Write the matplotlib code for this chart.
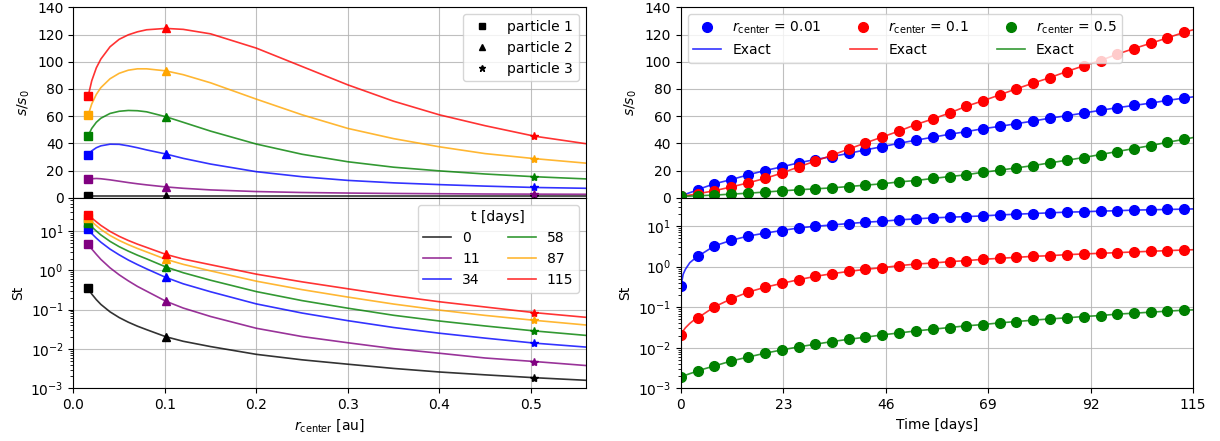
import numpy as np
import matplotlib.pyplot as plt

# ---- left panels: profiles vs r_center at several times ----
r_center = [0.016, 0.02, 0.025, 0.03, 0.04, 0.05, 0.06, 0.07, 0.08, 0.101,
            0.12, 0.15, 0.2, 0.25, 0.3, 0.35, 0.4, 0.45, 0.504, 0.56]
t_labels = ['0', '11', '34', '58', '87', '115']
t_colors = ['black', 'purple', 'blue', 'green', 'orange', 'red']

size_t0 = [1.0] * 20
size_t11 = [13.5, 14.0, 14.2, 14.0, 13.2, 12.2, 11.2, 10.3, 9.5, 8.0,
            7.0, 5.8, 4.6, 3.9, 3.5, 3.2, 3.0, 2.8, 2.7, 2.6]
size_t34 = [31.3, 34.5, 36.8, 38.2, 39.4, 39.3, 38.2, 36.8, 35.2, 32.2,
            29.0, 24.8, 19.2, 15.5, 12.8, 11.0, 9.7, 8.6, 7.6, 7.0]
size_t58 = [45.7, 51.0, 55.5, 58.5, 62.0, 63.6, 64.2, 64.0, 63.2, 59.6,
            55.5, 49.0, 39.5, 32.0, 26.5, 22.5, 19.8, 17.5, 15.5, 13.9]
size_t87 = [60.6, 69.0, 76.0, 81.0, 87.5, 91.5, 93.8, 94.8, 94.8, 93.3,
            90.5, 84.5, 72.5, 61.0, 51.0, 43.5, 37.5, 32.5, 28.8, 25.5]
size_t115 = [74.5, 86.0, 95.5, 102.0, 111.0, 116.5, 119.8, 122.0, 123.5, 124.5,
             123.8, 120.5, 110.0, 96.5, 83.0, 71.0, 61.0, 53.0, 45.3, 39.8]

st_t0 = [0.35, 0.25, 0.18, 0.136, 0.088, 0.063, 0.048, 0.038, 0.031, 0.0205,
         0.0157, 0.0115, 0.0073, 0.0053, 0.0041, 0.0032, 0.0026, 0.0022, 0.00186, 0.0016]
st_t11 = [4.7, 3.5, 2.56, 1.9, 1.16, 0.77, 0.54, 0.39, 0.295, 0.164,
          0.11, 0.067, 0.0336, 0.0207, 0.0144, 0.0102, 0.0078, 0.0059, 0.0048, 0.0038]
st_t34 = [11.0, 8.6, 6.6, 5.2, 3.47, 2.48, 1.83, 1.40, 1.09, 0.66,
          0.455, 0.285, 0.140, 0.082, 0.0525, 0.0352, 0.0252, 0.0189, 0.0141, 0.0112]
st_t58 = [16.0, 12.8, 10.0, 7.96, 5.46, 4.0, 3.08, 2.43, 1.96, 1.22,
          0.87, 0.56, 0.288, 0.170, 0.109, 0.072, 0.0515, 0.0385, 0.0288, 0.0222]
st_t87 = [21.2, 17.3, 13.7, 11.0, 7.7, 5.76, 4.5, 3.6, 2.94, 1.91,
          1.42, 0.97, 0.53, 0.323, 0.209, 0.139, 0.0975, 0.0715, 0.0536, 0.0408]
st_t115 = [26.0, 21.5, 17.2, 13.9, 9.77, 7.34, 5.75, 4.64, 3.83, 2.55,
           1.94, 1.39, 0.80, 0.51, 0.34, 0.227, 0.159, 0.117, 0.084, 0.064]

particle_idx = [0, 9, 18]
particle_markers = ['s', '^', '*']
particle_labels = ['particle 1', 'particle 2', 'particle 3']

# ---- right panels: evolution in time at three radii ----
times = [0, 3.8, 7.5, 11.3, 15.1, 18.8, 22.6, 26.4, 30.1, 33.9, 37.7, 41.4,
         45.2, 49.0, 52.7, 56.5, 60.3, 64.0, 67.8, 71.6, 75.3, 79.1, 82.9,
         86.6, 90.4, 94.2, 97.9, 101.7, 105.5, 109.2, 113.0]
r_labels = ['0.01', '0.1', '0.5']
r_colors = ['blue', 'red', 'green']

size_r001 = [1.0, 6.1, 10.3, 13.4, 16.9, 20.0, 22.7, 25.7, 28.1, 30.3, 32.7,
             35.2, 37.6, 40.1, 42.3, 44.5, 46.7, 48.6, 50.8, 52.5, 54.5, 56.4,
             58.6, 60.3, 62.3, 64.3, 66.2, 67.9, 69.6, 71.6, 73.3]
size_r01 = [1.0, 3.0, 5.2, 8.0, 11.0, 14.2, 18.1, 22.7, 26.9, 31.3, 35.9,
            40.3, 44.7, 49.1, 53.8, 57.9, 62.3, 67.2, 71.3, 75.7, 80.1, 84.3,
            88.4, 92.8, 97.0, 100.9, 105.5, 109.7, 113.6, 117.5, 121.7]
size_r05 = [1.0, 1.5, 2.0, 2.7, 3.4, 4.2, 5.1, 5.9, 6.6, 7.3, 8.3, 9.3,
            10.3, 11.7, 12.7, 14.2, 15.6, 16.9, 18.8, 20.3, 22.0, 23.7, 25.7,
            27.6, 29.6, 31.8, 34.0, 36.2, 38.4, 40.8, 43.0]

st_r001 = [0.33, 1.80, 3.25, 4.48, 5.7, 6.7, 7.8, 9.0, 9.9, 10.7, 11.6, 12.5,
           13.2, 14.3, 15.1, 16.0, 16.6, 17.2, 17.9, 18.9, 19.7, 20.5, 21.3,
           22.2, 22.6, 23.5, 24.0, 24.9, 25.3, 25.8, 26.3]
st_r01 = [0.021, 0.0547, 0.102, 0.161, 0.236, 0.309, 0.387, 0.477, 0.576,
          0.671, 0.766, 0.859, 0.945, 1.06, 1.16, 1.23, 1.33, 1.41, 1.52, 1.61,
          1.70, 1.80, 1.87, 1.98, 2.06, 2.14, 2.22, 2.31, 2.40, 2.49, 2.58]
st_r05 = [0.00186, 0.00272, 0.00355, 0.00471, 0.00591, 0.0073, 0.00883,
          0.0105, 0.0122, 0.0142, 0.0162, 0.0182, 0.0208, 0.0232, 0.026,
          0.0286, 0.0316, 0.0347, 0.0374, 0.0411, 0.0444, 0.0479, 0.0516,
          0.0547, 0.059, 0.0624, 0.0675, 0.0713, 0.0755, 0.080, 0.0846]

# exact solution: extra early points and the end point at 115 days
exact_t_early = [0.5, 1.0, 2.0, 3.0]
exact_t_end = 115
size_early = [[1.9, 2.6, 3.8, 4.9], [1.25, 1.5, 2.0, 2.5], [1.05, 1.1, 1.25, 1.35]]
size_end = [74.2, 123.5, 44.3]
st_early = [[0.65, 0.86, 1.26, 1.55], [0.026, 0.031, 0.040, 0.049], [0.002, 0.0021, 0.0023, 0.0025]]
st_end = [26.6, 2.62, 0.086]

size_profiles = [size_t0, size_t11, size_t34, size_t58, size_t87, size_t115]
st_profiles = [st_t0, st_t11, st_t34, st_t58, st_t87, st_t115]
size_series = [size_r001, size_r01, size_r05]
st_series = [st_r001, st_r01, st_r05]

fig, axes = plt.subplots(2, 2, figsize=(12.2, 4.41), dpi=100, sharex='col')
fig.subplots_adjust(left=0.0602, right=0.978, top=0.9834, bottom=0.1195,
                    hspace=0, wspace=0.186)
ax_s, ax_r = axes[0]
ax_st, ax_rst = axes[1]

# left column
for prof_s, prof_st, color, lab in zip(size_profiles, st_profiles, t_colors, t_labels):
    ax_s.plot(r_center, prof_s, color=color, lw=1.2, alpha=0.8)
    ax_st.plot(r_center, prof_st, color=color, lw=1.2, alpha=0.8, label=lab)
    for idx, mk in zip(particle_idx, particle_markers):
        ms = 5.5 if mk == 's' else 6
        ax_s.plot(r_center[idx], prof_s[idx], mk, color=color, ms=ms)
        ax_st.plot(r_center[idx], prof_st[idx], mk, color=color, ms=ms)

for mk, lab in zip(particle_markers, particle_labels):
    ax_s.plot([], [], mk, color='black', ms=5, label=lab)
ax_s.legend(loc='upper right', fontsize=10)
ax_st.legend(loc='upper right', ncol=2, title='t [days]', fontsize=10,
             title_fontsize=10)

ax_st.set_xlim(0, 0.56)
ax_s.set_ylim(0, 140)
ax_s.set_yticks([0, 20, 40, 60, 80, 100, 120, 140])
ax_st.set_yscale('log')
ax_st.set_ylim(1e-3, 70)
ax_s.set_ylabel('$s/s_0$')
ax_st.set_ylabel('St')
ax_st.set_xlabel(r'$r_{\rm center}$ [au]')

# right column
handles = []
for k in range(3):
    t_line = [times[0]] + exact_t_early + times[1:] + [exact_t_end]
    s_line = [size_series[k][0]] + size_early[k] + size_series[k][1:] + [size_end[k]]
    st_line = [st_series[k][0]] + st_early[k] + st_series[k][1:] + [st_end[k]]
    h1, = ax_r.plot(times, size_series[k], 'o', color=r_colors[k], ms=7,
                    label=r'$r_{\rm center}$ = ' + r_labels[k])
    h2, = ax_r.plot(t_line, s_line, color=r_colors[k], lw=1.2, alpha=0.8,
                    label='Exact')
    ax_rst.plot(times, st_series[k], 'o', color=r_colors[k], ms=7)
    ax_rst.plot(t_line, st_line, color=r_colors[k], lw=1.2, alpha=0.8)
    handles += [h1, h2]
ax_r.legend(handles=handles, loc='upper left', ncol=3, fontsize=10)

ax_rst.set_xlim(0, 115)
ax_r.set_ylim(0, 140)
ax_r.set_yticks([0, 20, 40, 60, 80, 100, 120, 140])
ax_rst.set_yscale('log')
ax_rst.set_ylim(1e-3, 50)
ax_rst.set_xticks([0, 23, 46, 69, 92, 115])
ax_r.set_ylabel('$s/s_0$')
ax_rst.set_ylabel('St')
ax_rst.set_xlabel('Time [days]')

for ax in axes.flat:
    ax.grid(True, alpha=0.8, color='#b0b0b0', lw=0.8)
    ax.set_axisbelow(True)

plt.savefig('out.png', dpi=100)
plt.close()
